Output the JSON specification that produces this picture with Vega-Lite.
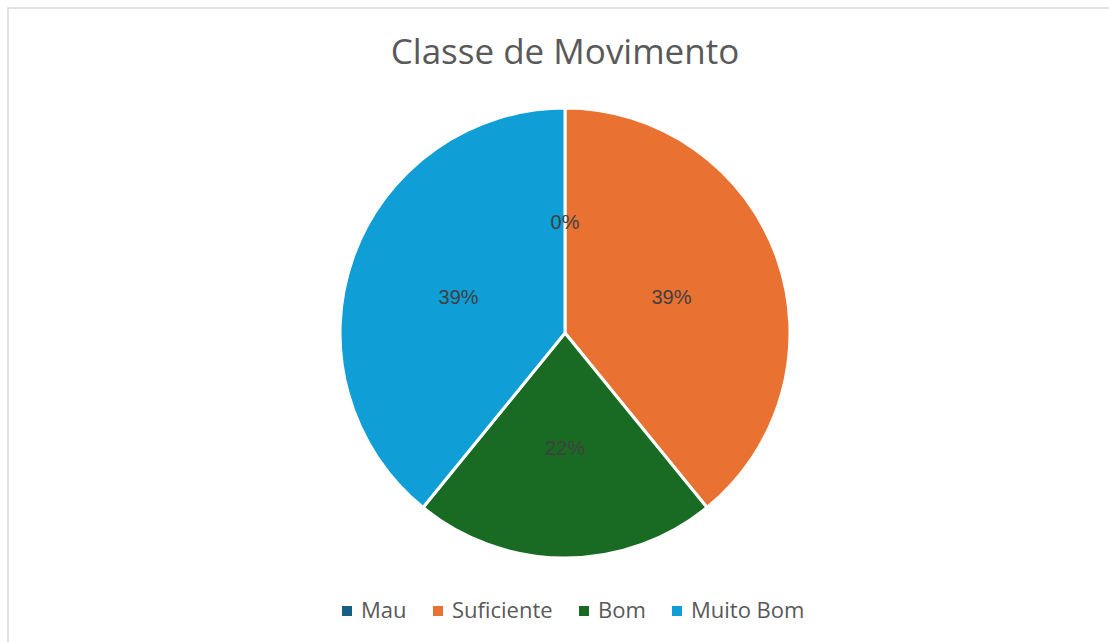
{
  "$schema": "https://vega.github.io/schema/vega-lite/v6.json",
  "autosize": {"type": "none"},
  "padding": {"left": 8, "top": 8, "right": 0, "bottom": 0},
  "width": 1114,
  "height": 650,
  "background": "white",
  "config": {
    "view": {"stroke": null},
    "font": "Open Sans"
  },
  "title": {
    "text": "Classe de Movimento",
    "fontSize": 35,
    "fontWeight": "normal",
    "color": "#595959",
    "font": "Open Sans",
    "anchor": "middle",
    "baseline": "alphabetic",
    "offset": -92
  },
  "layer": [
    {
      "data": {"values": [{"frame": 1}]},
      "mark": {"type": "rect", "fill": "white", "fillOpacity": 0, "stroke": "#d9d9d9", "strokeWidth": 1.5},
      "encoding": {}
    },
    {
      "data": {
        "values": [
          {"classe": "Mau", "n": 0, "ord": 1, "label": "0%"},
          {"classe": "Suficiente", "n": 9, "ord": 2, "label": "39%"},
          {"classe": "Bom", "n": 5, "ord": 3, "label": "22%"},
          {"classe": "Muito Bom", "n": 9, "ord": 4, "label": "39%"}
        ]
      },
      "encoding": {
        "theta": {"field": "n", "type": "quantitative", "stack": true},
        "order": {"field": "ord", "type": "quantitative"}
      },
      "layer": [
        {
          "mark": {"type": "arc", "radius": 225, "stroke": "white", "strokeWidth": 3},
          "encoding": {
            "color": {
              "field": "classe",
              "type": "nominal",
              "sort": ["Mau", "Suficiente", "Bom", "Muito Bom"],
              "scale": {
                "domain": ["Mau", "Suficiente", "Bom", "Muito Bom"],
                "range": ["#156082", "#E97132", "#196B24", "#0F9ED5"]
              },
              "legend": {
                "title": null,
                "orient": "none",
                "direction": "horizontal",
                "legendX": 328,
                "legendY": 592,
                "symbolType": "square",
                "symbolSize": 100,
                "symbolStrokeWidth": 0,
                "labelFontSize": 22,
                "labelFont": "Open Sans",
                "labelColor": "#595959",
                "labelOffset": 3,
                "columnPadding": 20
              }
            }
          }
        },
        {
          "mark": {"type": "text", "radius": 113, "fontSize": 20, "font": "Liberation Sans", "color": "#404040", "baseline": "middle", "align": "center", "dy": 3},
          "encoding": {
            "text": {"field": "label", "type": "nominal"}
          }
        }
      ]
    }
  ]
}
